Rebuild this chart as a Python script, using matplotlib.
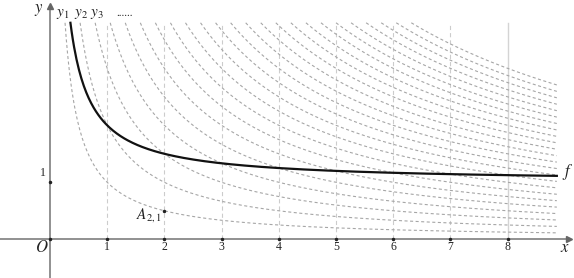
import numpy as np
import matplotlib
matplotlib.use("Agg")
import matplotlib.pyplot as plt

plt.rcParams['mathtext.fontset'] = 'stix'
plt.rcParams['font.family'] = ['Liberation Serif', 'DejaVu Serif']
plt.rcParams['lines.scale_dashes'] = False

# data
curve_n = list(range(1, 25))          # y_n = n / x
f_offset = 1.0                        # f = 1 + 1/x
x_ticks = [1, 2, 3, 4, 5, 6, 7, 8]
x_tick_labels = ['1', '2', '3', '4', '5', '6', '7', '8']
y_ticks = [1]
y_tick_labels = ['1']
point_A = (2, 0.5)

x_end = 8.86
y_top = 3.8

fig = plt.figure(figsize=(5.74, 2.78), dpi=100)
ax = fig.add_axes([0, 0, 1, 1])
ax.set_xlim(-0.874, 9.16)
ax.set_ylim(-0.68, 4.2)
ax.axis('off')

# vertical grid lines
for xv in x_ticks:
    if xv == 8:
        ax.plot([xv, xv], [0, y_top], color='#d4d4d4', lw=1.0, zorder=1)
    else:
        ax.plot([xv, xv], [0, y_top], color='#cccccc', lw=0.8,
                linestyle=(0, (3.0, 2.2)), zorder=1)

# dashed family y_n = n/x
for n in curve_n:
    xs = np.linspace(n / y_top, x_end, 400)
    ax.plot(xs, n / xs, color='#a6a6a6', lw=0.8,
            linestyle=(0, (2.2, 1.8)), zorder=2)

# solid f
xs = np.linspace(1 / (y_top - f_offset), x_end, 400)
ax.plot(xs, f_offset + 1 / xs, color='#111111', lw=1.6, zorder=3)

# axes
axc = '#888888'
ax.plot([-0.874, 9.05], [0, 0], color=axc, lw=1.3, zorder=4)
ax.plot([0, 0], [-0.68, 4.08], color=axc, lw=1.3, zorder=4)
ax.plot([9.07], [0], marker='>', color='#666666', markersize=5, zorder=5)
ax.plot([0], [4.1], marker='^', color='#666666', markersize=5, zorder=5)

# tick dots and labels
ax.plot(x_ticks, [0] * len(x_ticks), 'o', color='#222222', markersize=1.5, zorder=6)
ax.plot([0], y_ticks, 'o', color='#222222', markersize=1.5, zorder=6)
ax.plot([0], [0], 'o', color='#222222', markersize=1.5, zorder=6)
for xv, lab in zip(x_ticks, x_tick_labels):
    ax.text(xv, -0.13, lab, ha='center', va='center', fontsize=8.5, color='#222222')
for yv, lab in zip(y_ticks, y_tick_labels):
    ax.text(-0.12, yv + 0.17, lab, ha='center', va='center', fontsize=8.5, color='#222222')

ax.text(-0.15, -0.16, r'$O$', ha='center', va='center', fontsize=12, color='#222222')
ax.text(9.0, -0.15, r'$x$', ha='center', va='center', fontsize=12, color='#222222')
ax.text(-0.19, 4.03, r'$y$', ha='center', va='center', fontsize=12, color='#222222')
ax.text(9.05, 1.18, r'$f$', ha='center', va='center', fontsize=12, color='#222222')

# y_n labels
ax.text(0.22, 3.95, r'$y_1$', ha='center', va='center', fontsize=11, color='#222222')
ax.text(0.55, 3.95, r'$y_2$', ha='center', va='center', fontsize=11, color='#222222')
ax.text(0.82, 3.95, r'$y_3$', ha='center', va='center', fontsize=11, color='#222222')
ax.text(1.30, 3.97, '......', ha='center', va='center', fontsize=8, color='#222222')

# point A_{2,1}
ax.plot([point_A[0]], [point_A[1]], 'o', color='#222222', markersize=1.5, zorder=6)
ax.text(point_A[0] - 0.05, point_A[1] - 0.08, r'$A_{2,1}$', ha='right', va='center',
        fontsize=11, color='#222222')

fig.savefig('out.png', dpi=100)
